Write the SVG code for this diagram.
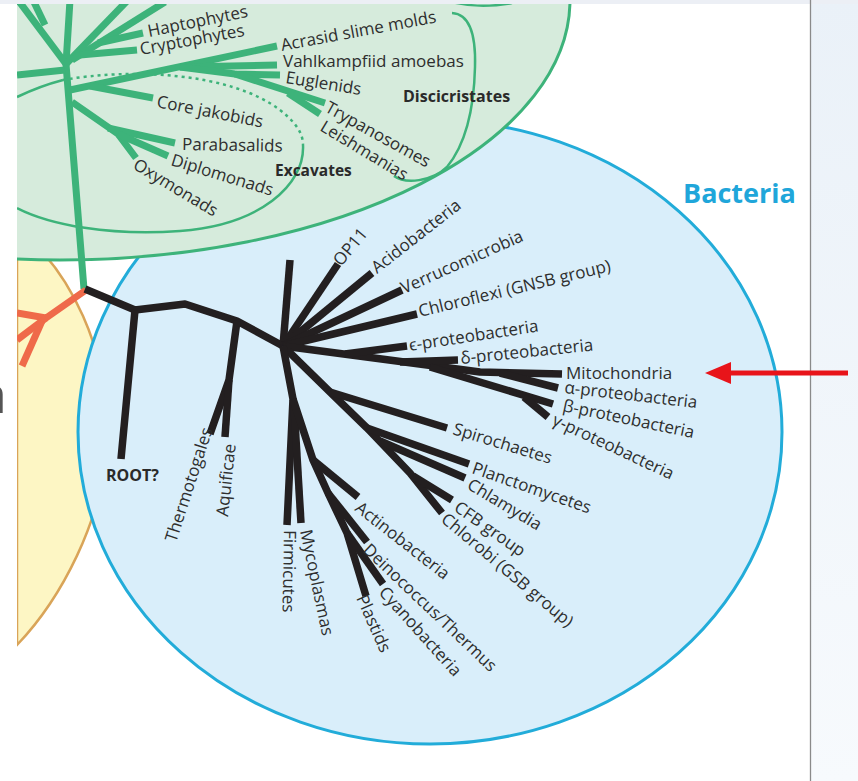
<svg xmlns="http://www.w3.org/2000/svg" width="858" height="781" viewBox="0 0 858 781">
<defs>
<style>
.lbl{font-family:"Open Sans","Liberation Sans",sans-serif;font-size:17px;fill:#2e2e2e}
.bold{font-family:"Open Sans","Liberation Sans",sans-serif;font-weight:700;fill:#2a2a2a}
.bk{stroke:#231f20;stroke-width:7.5;fill:none;stroke-linejoin:round;stroke-linecap:butt}
.gr{stroke:#3db37a;stroke-width:7;fill:none;stroke-linejoin:round}
.or{stroke:#ef6a4a;stroke-width:7;fill:none;stroke-linejoin:round}
.thin{stroke:#3db37a;stroke-width:2.5;fill:none}
</style>
<clipPath id="clip"><rect x="17" y="4" width="793" height="777"/></clipPath>
<linearGradient id="side" x1="0" y1="0" x2="0" y2="1"><stop offset="0" stop-color="#eaf1f8"/><stop offset="1" stop-color="#f7fafd"/></linearGradient>
</defs>
<rect width="858" height="781" fill="#ffffff"/>
<rect x="811" y="0" width="47" height="781" fill="url(#side)"/>
<rect x="0" y="0" width="858" height="4" fill="#eceff5"/>

<g clip-path="url(#clip)">
  <g id="archaea">
    <path d="M 17 228 C 70 270, 110 350, 107 440 C 104 520, 60 600, 17 645 Z" fill="#fdf6c4" stroke="#d9a458" stroke-width="2.5"/>
  </g>
  <g id="bacteria">
    <ellipse cx="430" cy="432" rx="352" ry="312" fill="#d9eefa" stroke="#22acd9" stroke-width="3"/>
  </g>
  <g id="eukarya">
    <ellipse cx="60" cy="0" rx="510" ry="260" fill="#d6ebdc" stroke="#3db37a" stroke-width="3"/>
    <path class="thin" d="M 17 97 Q 40 86 63 80"/>
    <path class="thin" stroke-dasharray="3 4" d="M 63 80 C 130 68, 230 72, 280 110 C 298 124, 303 135, 303 145"/>
    <path class="thin" d="M 303 145 C 305 185, 260 225, 180 231 C 110 236, 50 225, 17 208"/>
    <path class="thin" d="M 452 13 C 470 14, 476 35, 475 67 C 474 110, 465 145, 447 167 C 432 182, 405 184, 394 176"/>
    <path class="thin" d="M 452 2 Q 480 9 512 3"/>
  </g>
  <g id="euk-tree">
    <path class="gr" d="M 70 0 L 66 64 L 84 289"/>
    <path class="gr" d="M 18 0 L 66 64"/>
    <path class="gr" d="M 33 0 L 45 25"/>
    <path class="gr" d="M 66 64 L 128 0"/>
    <path class="gr" d="M 72 60 L 165 2"/>
    <path class="gr" d="M 98 43 L 143 33"/>
    <path class="gr" d="M 80 55 L 137 50"/>
    <path class="gr" d="M 17 75 L 65 70"/>
    <path class="gr" d="M 70 90 L 277 46"/>
    <path class="gr" d="M 180 67 L 277 65"/>
    <path class="gr" d="M 180 67 L 235 74 L 280 75"/>
    <path class="gr" d="M 235 74 L 325 103"/>
    <path class="gr" d="M 288 93 L 320 114"/>
    <path class="gr" d="M 90 86 L 153 98"/>
    <path class="gr" d="M 72 102 L 118 134 L 136 158"/>
    <path class="gr" d="M 108 128 L 175 143"/>
    <path class="gr" d="M 118 134 L 168 156"/>
  </g>
  <g id="arch-tree">
    <path class="or" d="M 86 290 L 46 318 L 17 313"/>
    <path class="or" d="M 46 318 L 17 340"/>
    <path class="or" d="M 42 321 L 22 366"/>
  </g>
</g>

<g id="connectors">
  <path class="bk" d="M 85 289 L 135 310 L 185 304 L 237 321 L 283 346"/>
  <path class="bk" d="M 135 310 L 121 459"/>
  <path class="bk" d="M 237 321 L 229 380 L 210 434"/>
  <path class="bk" d="M 229 380 L 225 437"/>
  <path class="bk" d="M 283 346 L 290 260"/>
  <path class="bk" d="M 283 346 L 338 264"/>
  <path class="bk" d="M 283 346 L 372 273"/>
  <path class="bk" d="M 283 346 L 402 290"/>
  <path class="bk" d="M 283 346 L 417 314"/>
  <path class="bk" d="M 283 346 L 480 372 L 562 374"/>
  <path class="bk" d="M 345 354 L 407 346"/>
  <path class="bk" d="M 400 362 L 458 360"/>
  <path class="bk" d="M 500 373 L 558 388"/>
  <path class="bk" d="M 430 367 L 553 404"/>
  <path class="bk" d="M 524 397 L 548 417"/>
  <path class="bk" d="M 283 346 L 330 392 L 367 428 L 410 473 L 442 513"/>
  <path class="bk" d="M 330 392 L 447 428"/>
  <path class="bk" d="M 367 428 L 469 464"/>
  <path class="bk" d="M 380 441 L 465 478"/>
  <path class="bk" d="M 413 476 L 452 500"/>
  <path class="bk" d="M 283 346 L 293 399 L 287 525"/>
  <path class="bk" d="M 294 405 L 301 523"/>
  <path class="bk" d="M 293 399 L 313 460 L 328 493 L 347 533 L 366 596"/>
  <path class="bk" d="M 313 460 L 358 497"/>
  <path class="bk" d="M 328 493 L 367 542"/>
  <path class="bk" d="M 347 533 L 383 584"/>
</g>

<g id="euk-labels">
  <g id="n-haptophytes"><text class="lbl" transform="translate(149,37) rotate(-11.5)">Haptophytes</text></g>
  <g id="n-cryptophytes"><text class="lbl" transform="translate(141,55) rotate(-10.5)">Cryptophytes</text></g>
  <g id="n-acrasid"><text class="lbl" transform="translate(282,51) rotate(-10.5)">Acrasid slime molds</text></g>
  <g id="n-vahlkampfiid"><text class="lbl" transform="translate(283,67) rotate(0)">Vahlkampfiid amoebas</text></g>
  <g id="n-euglenids"><text class="lbl" transform="translate(285,83) rotate(9)">Euglenids</text></g>
  <g id="n-trypanosomes"><text class="lbl" transform="translate(324,111) rotate(29)">Trypanosomes</text></g>
  <g id="n-leishmanias"><text class="lbl" transform="translate(319,130) rotate(31)">Leishmanias</text></g>
  <g id="n-jakobids"><text class="lbl" transform="translate(156,107) rotate(11)">Core jakobids</text></g>
  <g id="n-parabasalids"><text class="lbl" transform="translate(182,150) rotate(1)">Parabasalids</text></g>
  <g id="n-diplomonads"><text class="lbl" transform="translate(170,165) rotate(17)">Diplomonads</text></g>
  <g id="n-oxymonads"><text class="lbl" transform="translate(132,168) rotate(31)">Oxymonads</text></g>
  <g id="n-discicristates"><text class="bold" font-size="16" x="403" y="102">Discicristates</text></g>
  <g id="n-excavates"><text class="bold" font-size="15.5" x="275" y="176">Excavates</text></g>
</g>

<g id="bac-labels">
  <g id="n-bacteria"><text font-family="'Open Sans','Liberation Sans',sans-serif" font-weight="700" font-size="27" fill="#1fa6da" x="683" y="203">Bacteria</text></g>
  <g id="n-root"><text class="bold" font-size="16" x="106" y="481">ROOT?</text></g>
  <g id="n-op11"><text class="lbl" transform="translate(341,267) rotate(-50)">OP11</text></g>
  <g id="n-acido"><text class="lbl" transform="translate(377,274) rotate(-38)">Acidobacteria</text></g>
  <g id="n-verruco"><text class="lbl" transform="translate(404,294) rotate(-24)">Verrucomicrobia</text></g>
  <g id="n-chloroflexi"><text class="lbl" transform="translate(420,317) rotate(-13.5)">Chloroflexi (GNSB group)</text></g>
  <g id="n-eps"><text class="lbl" transform="translate(410,351) rotate(-8.6)">ϵ-proteobacteria</text></g>
  <g id="n-delta"><text class="lbl" transform="translate(461,364) rotate(-5.8)">δ-proteobacteria</text></g>
  <g id="n-mito"><text class="lbl" transform="translate(566,379)">Mitochondria</text></g>
  <g id="n-alpha"><text class="lbl" transform="translate(564,393) rotate(6.5)">α-proteobacteria</text></g>
  <g id="n-beta"><text class="lbl" transform="translate(562,411) rotate(11.7)">β-proteobacteria</text></g>
  <g id="n-gamma"><text class="lbl" transform="translate(551,424) rotate(25)">γ-proteobacteria</text></g>
  <g id="n-spiro"><text class="lbl" transform="translate(452,434) rotate(17)">Spirochaetes</text></g>
  <g id="n-plancto"><text class="lbl" transform="translate(471,473) rotate(19)">Planctomycetes</text></g>
  <g id="n-chlamydia"><text class="lbl" transform="translate(466,488) rotate(31)">Chlamydia</text></g>
  <g id="n-cfb"><text class="lbl" transform="translate(453,510) rotate(35)">CFB group</text></g>
  <g id="n-chlorobi"><text class="lbl" transform="translate(440,521) rotate(40)">Chlorobi (GSB group)</text></g>
  <g id="n-actino"><text class="lbl" transform="translate(354,510) rotate(38)">Actinobacteria</text></g>
  <g id="n-deino"><text class="lbl" transform="translate(362,551) rotate(43.5)">Deinococcus/Thermus</text></g>
  <g id="n-cyano"><text class="lbl" transform="translate(378,593) rotate(48)">Cyanobacteria</text></g>
  <g id="n-plastids"><text class="lbl" transform="translate(356,598) rotate(66)">Plastids</text></g>
  <g id="n-myco"><text class="lbl" transform="translate(300,531) rotate(78)">Mycoplasmas</text></g>
  <g id="n-firmi"><text class="lbl" transform="translate(284,530) rotate(91)">Firmicutes</text></g>
  <g id="n-thermo"><text class="lbl" transform="translate(176,543) rotate(-72)">Thermotogales</text></g>
  <g id="n-aquif"><text class="lbl" transform="translate(228,517) rotate(-84)">Aquificae</text></g>
</g>

<rect x="0" y="4" width="17" height="777" fill="#ffffff"/>
<text font-family="'Open Sans','Liberation Sans',sans-serif" font-size="52" fill="#555555" x="-22" y="413">a</text>
<line x1="810.5" y1="0" x2="810.5" y2="781" stroke="#8a8a8a" stroke-width="1.3"/>
<g id="arrow">
  <line x1="848" y1="373" x2="726" y2="373" stroke="#e8141a" stroke-width="5"/>
  <polygon points="705,373 731,362 731,384" fill="#e8141a"/>
</g>
</svg>
